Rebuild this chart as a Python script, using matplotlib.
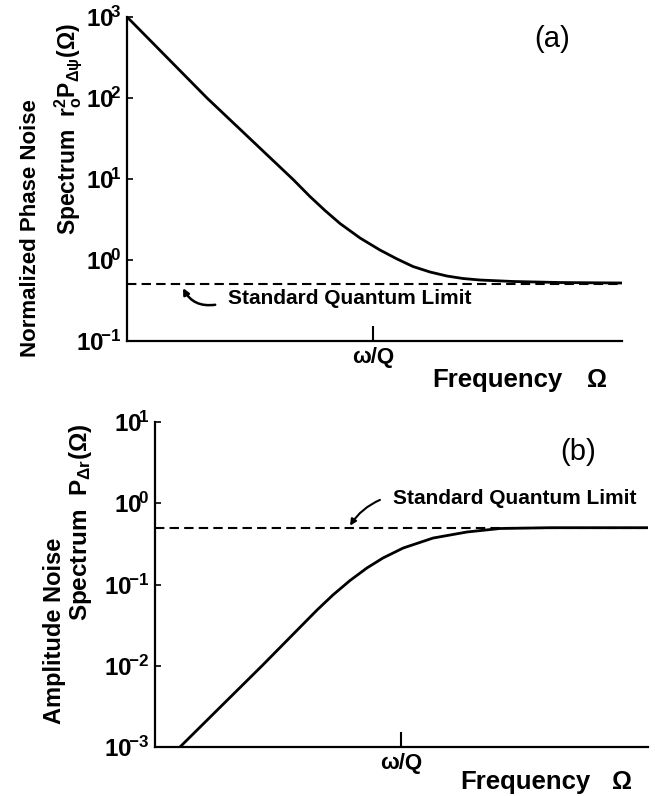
import matplotlib
matplotlib.use("Agg")
import matplotlib.pyplot as plt
from matplotlib.ticker import NullLocator

# Frequency in units of omega/Q, spectra
freq_phase = [0.033, 0.1, 0.330, 0.417, 0.514, 0.633, 0.835, 1.10, 1.395, 1.742,
              2.205, 2.79, 3.48, 4.41, 6.97, 13.4, 31.6]
phase_noise = [1000, 100, 9.87, 6.08, 4.08, 2.82, 1.87, 1.33, 1.03, 0.831,
               0.711, 0.634, 0.591, 0.566, 0.543, 0.527, 0.520]

freq_amp = [0.0466, 0.1455, 0.312, 0.389, 0.493, 0.624, 0.779, 1.03, 1.56,
            2.50, 3.95, 7.9, 30.8]
amp_noise = [0.001, 0.01, 0.0485, 0.0743, 0.112, 0.160, 0.212, 0.281, 0.373,
             0.443, 0.489, 0.5, 0.5]

sql_level = 0.5
phase_exponents = [-1, 0, 1, 2, 3]
amp_exponents = [-3, -2, -1, 0, 1]

plt.rcParams["font.family"] = ["Liberation Sans", "DejaVu Sans"]
plt.rcParams["mathtext.fontset"] = "custom"
plt.rcParams["mathtext.rm"] = "Liberation Sans"
plt.rcParams["mathtext.it"] = "Liberation Sans:italic"
plt.rcParams["mathtext.bf"] = "Liberation Sans:bold"

W, H = 655, 796
fig = plt.figure(figsize=(W / 100, H / 100), dpi=100)


def fx(px):
    return px / W


def fy(py):
    return 1 - py / H


def decade_label(e):
    # keep the minus tight against the digit
    exp = ("{-}" + str(-e)) if e < 0 else str(e)
    return r"$\mathbf{10^{\!" + exp + "}}$"


def style_axes(ax, exponents):
    ax.set_xscale("log")
    ax.set_yscale("log")
    for side in ("top", "right"):
        ax.spines[side].set_visible(False)
    for side in ("left", "bottom"):
        ax.spines[side].set_linewidth(1.6)
    ax.xaxis.set_minor_locator(NullLocator())
    ax.yaxis.set_minor_locator(NullLocator())
    ax.set_yticks([10.0 ** e for e in exponents])
    ax.set_yticklabels([decade_label(e) for e in exponents], fontsize=17.5)
    ax.set_xticks([1])
    ax.set_xticklabels(["ω/Q"], fontsize=16, fontweight="bold")
    ax.tick_params(axis="y", direction="in", length=4, width=1.2, pad=4)
    ax.tick_params(axis="x", direction="in", length=11, width=1.5, pad=4)


# (a) phase noise
ax_a = fig.add_axes([fx(127), fy(341), (622 - 127) / W, (341 - 17) / H])
ax_a.plot(freq_phase, phase_noise, color="black", lw=2.0)
ax_a.axhline(sql_level, color="black", lw=1.5, ls=(0, (4.5, 2.5)))
ax_a.set_xlim(10 ** -1.482, 10 ** 1.5)
ax_a.set_ylim(0.1, 1000)
style_axes(ax_a, phase_exponents)
ax_a.annotate("", xy=(0.0717, 0.45), xytext=(0.112, 0.28),
              arrowprops=dict(arrowstyle="-|>", color="black", lw=1.8,
                              mutation_scale=9, shrinkA=0, shrinkB=0,
                              connectionstyle="arc3,rad=-0.35"))

# (b) amplitude noise
ax_b = fig.add_axes([fx(155), fy(747), (648 - 155) / W, (747 - 422) / H])
ax_b.plot(freq_amp, amp_noise, color="black", lw=2.0)
ax_b.axhline(sql_level, color="black", lw=1.5, ls=(0, (4.5, 2.5)))
ax_b.set_xlim(10 ** -1.482, 10 ** 1.488)
ax_b.set_ylim(0.001, 10)
style_axes(ax_b, amp_exponents)
ax_b.annotate("", xy=(0.493, 0.53), xytext=(0.747, 1.10),
              arrowprops=dict(arrowstyle="-|>", color="black", lw=1.5,
                              mutation_scale=9, shrinkA=0, shrinkB=0,
                              connectionstyle="arc3,rad=0.15"))

bold = dict(fontweight="bold")

# axis titles
fig.text(fx(31), fy(228), "Normalized Phase Noise", rotation=90, fontsize=16,
         ha="center", va="center", **bold)
fig.text(fx(68), fy(129), r"Spectrum  $\mathbf{r_o^2P_{\Delta\psi}(\Omega)}$",
         rotation=90, fontsize=16.5, ha="center", va="center", **bold)
fig.text(fx(55), fy(631), "Amplitude Noise", rotation=90, fontsize=17,
         ha="center", va="center", **bold)
fig.text(fx(80), fy(522), r"Spectrum  $\mathbf{P_{\Delta r}(\Omega)}$",
         rotation=90, fontsize=17.5, ha="center", va="center", **bold)

fig.text(fx(432), fy(380), "Frequency", fontsize=18.5, ha="left", va="center", **bold)
fig.text(fx(597), fy(380), "Ω", fontsize=18, ha="center", va="center", **bold)
fig.text(fx(460), fy(782), "Frequency", fontsize=18.5, ha="left", va="center", **bold)
fig.text(fx(622), fy(782), "Ω", fontsize=18, ha="center", va="center", **bold)

fig.text(fx(228), fy(299), "Standard Quantum Limit", fontsize=15,
         ha="left", va="center", **bold)
fig.text(fx(393), fy(498), "Standard Quantum Limit", fontsize=15,
         ha="left", va="center", **bold)

fig.text(fx(552), fy(39), "(a)", fontsize=21, ha="center", va="center")
fig.text(fx(578), fy(452), "(b)", fontsize=21, ha="center", va="center")

fig.savefig("out.png", dpi=100, facecolor="white")
